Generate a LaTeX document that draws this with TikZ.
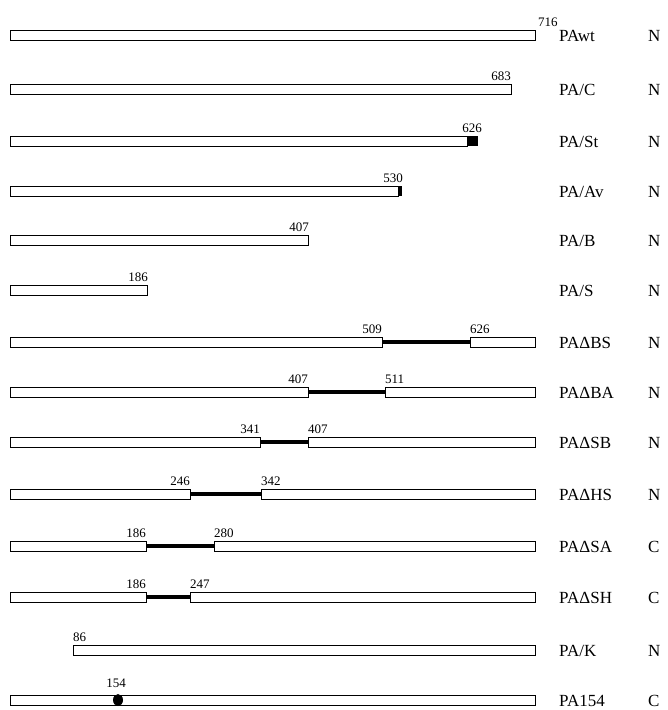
\documentclass[tikz,border=0pt]{standalone}
\usepackage{fontspec}
\setmainfont{Liberation Serif}
\newcommand\segm[3]{\draw[segbox] (#1,#3-5) rectangle (#2,#3+5);}
\begin{document}
\begin{tikzpicture}[x=1pt,y=-1pt,
  segbox/.style={draw,line width=1pt,fill=white},
  gapline/.style={line width=3.5pt},
  num/.style={font=\fontsize{13}{13}\selectfont,inner sep=0pt},
  lab/.style={font=\fontsize{17}{17}\selectfont,anchor=base west,inner sep=0pt},
]
\useasboundingbox (0,0) rectangle (668,710);
% PAwt
\segm{10}{535}{35}
\node[num,anchor=south west] (n1) at (538,27) {716};
\node[lab] (l1) at (559,41) {PAwt};
\node[lab] (t1) at (648,41) {N};
% PA/C
\segm{10}{511}{89}
\node[num,anchor=south east] (n2) at (511,81) {683};
\node[lab] (l2) at (559,95) {PA/C};
\node[lab] (t2) at (648,95) {N};
% PA/St
\segm{10}{467}{141}
\fill (467,136) rectangle (478,146);
\node[num,anchor=south] (n3) at (472,133) {626};
\node[lab] (l3) at (559,147) {PA/St};
\node[lab] (t3) at (648,147) {N};
% PA/Av
\segm{10}{398}{191}
\fill (398,186) rectangle (402,196);
\node[num,anchor=south east] (n4) at (403,183) {530};
\node[lab] (l4) at (559,197) {PA/Av};
\node[lab] (t4) at (648,197) {N};
% PA/B
\segm{10}{308}{240}
\node[num,anchor=south east] (n5) at (309,232) {407};
\node[lab] (l5) at (559,246) {PA/B};
\node[lab] (t5) at (648,246) {N};
% PA/S
\segm{10}{147}{290}
\node[num,anchor=south east] (n6) at (148,282) {186};
\node[lab] (l6) at (559,296) {PA/S};
\node[lab] (t6) at (648,296) {N};
% PA Delta BS
\coordinate (a7) at (382,342); \coordinate (b7) at (470,342);
\draw[gapline] (a7) -- (b7);
\segm{10}{382}{342}\segm{470}{535}{342}
\node[num,anchor=south east] (n7a) at (382,334) {509};
\node[num,anchor=south west] (n7b) at (470,334) {626};
\node[lab] (l7) at (559,348) {PAΔBS};
\node[lab] (t7) at (648,348) {N};
% PA Delta BA
\coordinate (a8) at (308,392); \coordinate (b8) at (385,392);
\draw[gapline] (a8) -- (b8);
\segm{10}{308}{392}\segm{385}{535}{392}
\node[num,anchor=south east] (n8a) at (308,384) {407};
\node[num,anchor=south west] (n8b) at (385,384) {511};
\node[lab] (l8) at (559,398) {PAΔBA};
\node[lab] (t8) at (648,398) {N};
% PA Delta SB
\coordinate (a9) at (260,442); \coordinate (b9) at (308,442);
\draw[gapline] (a9) -- (b9);
\segm{10}{260}{442}\segm{308}{535}{442}
\node[num,anchor=south east] (n9a) at (260,434) {341};
\node[num,anchor=south west] (n9b) at (308,434) {407};
\node[lab] (l9) at (559,448) {PAΔSB};
\node[lab] (t9) at (648,448) {N};
% PA Delta HS
\coordinate (a10) at (190,494); \coordinate (b10) at (261,494);
\draw[gapline] (a10) -- (b10);
\segm{10}{190}{494}\segm{261}{535}{494}
\node[num,anchor=south east] (n10a) at (190,486) {246};
\node[num,anchor=south west] (n10b) at (261,486) {342};
\node[lab] (l10) at (559,500) {PAΔHS};
\node[lab] (t10) at (648,500) {N};
% PA Delta SA
\coordinate (a11) at (146,546); \coordinate (b11) at (214,546);
\draw[gapline] (a11) -- (b11);
\segm{10}{146}{546}\segm{214}{535}{546}
\node[num,anchor=south east] (n11a) at (146,538) {186};
\node[num,anchor=south west] (n11b) at (214,538) {280};
\node[lab] (l11) at (559,552) {PAΔSA};
\node[lab] (t11) at (648,552) {C};
% PA Delta SH
\coordinate (a12) at (146,597); \coordinate (b12) at (190,597);
\draw[gapline] (a12) -- (b12);
\segm{10}{146}{597}\segm{190}{535}{597}
\node[num,anchor=south east] (n12a) at (146,589) {186};
\node[num,anchor=south west] (n12b) at (190,589) {247};
\node[lab] (l12) at (559,603) {PAΔSH};
\node[lab] (t12) at (648,603) {C};
% PA/K
\segm{73}{535}{650}
\node[num,anchor=south west] (n13) at (73,642) {86};
\node[lab] (l13) at (559,656) {PA/K};
\node[lab] (t13) at (648,656) {N};
% PA154
\segm{10}{535}{700}
\fill (118,700) ellipse (5 and 6);
\node[num,anchor=south] (n14) at (116,688) {154};
\node[lab] (l14) at (559,706) {PA154};
\node[lab] (t14) at (648,706) {C};
\end{tikzpicture}
\end{document}
